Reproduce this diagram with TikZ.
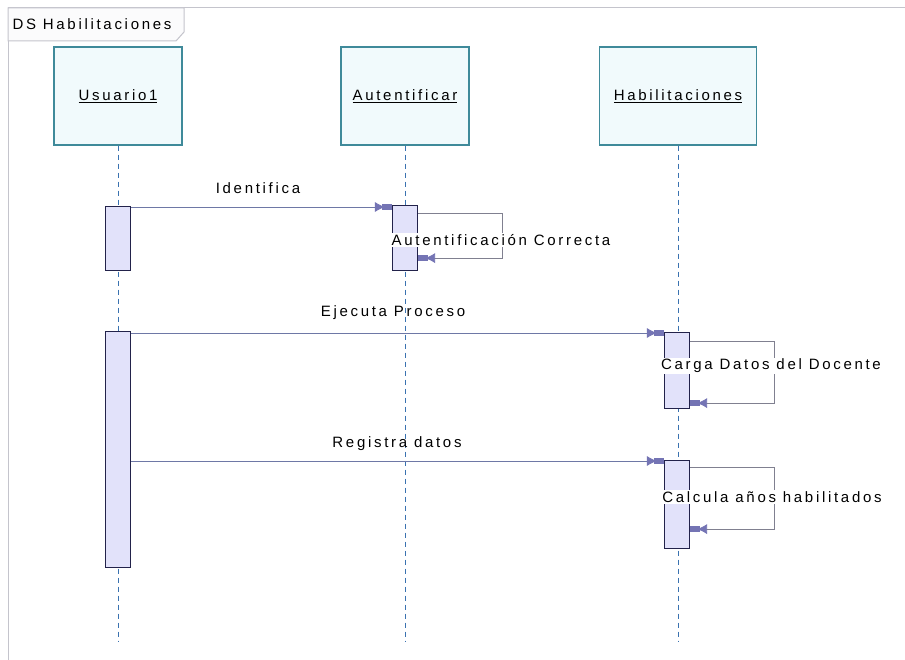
\documentclass[tikz,border=0pt]{standalone}
\usepackage{fontspec}
\setmainfont{Liberation Sans}
\newfontfamily\lbl{Liberation Sans}[LetterSpace=18]
\usetikzlibrary{arrows.meta}
\definecolor{framec}{HTML}{C4C4CC}
\definecolor{headc}{HTML}{3F8A9A}
\definecolor{headfill}{HTML}{F1FAFC}
\definecolor{lifec}{HTML}{3A72B0}
\definecolor{actc}{HTML}{22224A}
\definecolor{actfill}{HTML}{E2E2FA}
\definecolor{msgc}{HTML}{6E78A6}
\definecolor{loopc}{HTML}{808090}
\definecolor{tipc}{HTML}{7474B4}
\tikzset{
  txt/.style={font=\lbl\fontsize{15}{18}\selectfont, text=black},
  head/.style={draw=headc, line width=1.3pt, fill=headfill, minimum height=98pt, txt},
  life/.style={draw=lifec, line width=0.8pt, dash pattern=on 5pt off 4pt},
  act/.style={draw=actc, line width=1.1pt, fill=actfill, minimum width=25pt, inner sep=0pt},
  tip/.style={-{Latex[length=10pt,width=10pt,fill=tipc,color=tipc,sep=-3pt] Rectangle[length=10pt,width=6pt,fill=tipc,color=tipc]}},
  msg/.style={draw=msgc, line width=0.8pt, tip},
  selfmsg/.style={draw=loopc, line width=0.8pt, tip},
  lbox/.style={txt, fill=white, inner sep=1.5pt},
  mlabel/.style={txt, inner sep=1pt},
}
\begin{document}
\begin{tikzpicture}[x=1pt, y=-1pt]
\useasboundingbox (0,0) rectangle (905,660);
\fill[white] (0,0) rectangle (905,660);

% diagram frame and its name tab
\draw[framec, line width=1pt] (8,662) -- (8,8) -- (907,8);
\draw[framec, line width=1pt, fill=white!94!framec] (8,8) -- (184,8) -- (184,32) -- (176,41) -- (8,41) -- cycle;
\node[txt, anchor=west] (title) at (9,24) {DS Habilitaciones};

% lifeline heads
\node[head, minimum width=128pt] (usr) at (118,96) {\underline{Usuario1}};
\node[head, minimum width=128pt] (aut) at (405,96) {\underline{Autentificar}};
\node[head, minimum width=157pt] (hab) at (678,96) {\underline{Habilitaciones}};

% lifelines
\coordinate (usrend) at (118,642);
\coordinate (autend) at (405,642);
\coordinate (habend) at (678,642);
\draw[life] (usr.south) -- (usrend);
\draw[life] (aut.south) -- (autend);
\draw[life] (hab.south) -- (habend);

% activation bars
\node[act, minimum height=64pt, anchor=north] (ua1) at (118,206) {};
\node[act, minimum height=236pt, anchor=north] (ua2) at (118,331) {};
\node[act, minimum height=65pt, anchor=north] (aa1) at (405,205) {};
\node[act, minimum height=76pt, anchor=north] (ha1) at (677,332) {};
\node[act, minimum height=88pt, anchor=north] (ha2) at (677,460) {};

% Identifica
\coordinate (i0) at (ua1.east |- 0,207);
\draw[msg] (i0) -- (aa1.west |- i0);
\node[mlabel] (l1) at (258,188) {Identifica};

% Autentificacion Correcta (self call)
\draw[selfmsg] ([yshift=-8pt]aa1.north east) -- ++(84,0) |- ([yshift=13pt]aa1.south east);
\node[lbox] (l2) at (501,240) {Autentificación Correcta};

% Ejecuta Proceso
\coordinate (e0) at (ua2.east |- 0,333);
\draw[msg] (e0) -- (ha1.west |- e0);
\node[mlabel] (l3) at (393,313) {Ejecuta Proceso};

% Carga Datos del Docente (self call)
\draw[selfmsg] ([yshift=-9pt]ha1.north east) -- ++(84,0) |- ([yshift=6pt]ha1.south east);
\node[lbox] (l4) at (771,366) {Carga Datos del Docente};

% Registra datos
\coordinate (r0) at (ua2.east |- 0,461);
\draw[msg] (r0) -- (ha2.west |- r0);
\node[mlabel] (l5) at (397,444) {Registra datos};

% Calcula anos habilitados (self call)
\draw[selfmsg] ([yshift=-7pt]ha2.north east) -- ++(84,0) |- ([yshift=20pt]ha2.south east);
\node[lbox] (l6) at (772,497) {Calcula años habilitados};
\end{tikzpicture}
\end{document}
